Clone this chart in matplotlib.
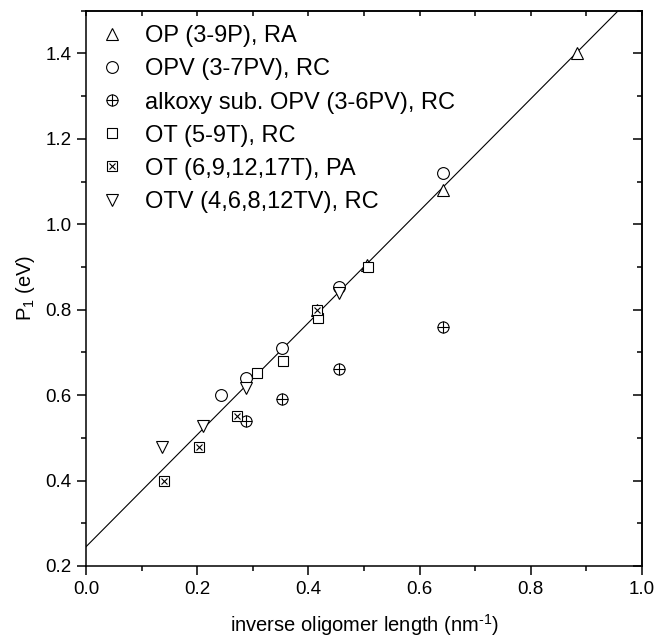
import matplotlib
matplotlib.use("Agg")
import matplotlib.pyplot as plt
import numpy as np
from matplotlib.legend_handler import HandlerTuple
from matplotlib.ticker import MultipleLocator, FormatStrFormatter

plt.rcParams['font.family'] = ['Liberation Sans', 'DejaVu Sans']
plt.rcParams['mathtext.fontset'] = 'custom'
plt.rcParams['mathtext.rm'] = 'Liberation Sans'

# data
op_x = [0.416, 0.505, 0.643, 0.883]
op_y = [0.80, 0.905, 1.08, 1.40]
opv_x = [0.242, 0.288, 0.3525, 0.4545, 0.643]
opv_y = [0.60, 0.64, 0.71, 0.853, 1.12]
alk_x = [0.288, 0.3525, 0.455, 0.6415]
alk_y = [0.54, 0.59, 0.66, 0.76]
ot_x = [0.307, 0.355, 0.418, 0.508]
ot_y = [0.651, 0.68, 0.78, 0.90]
otpa_x = [0.140, 0.2027, 0.272, 0.416]
otpa_y = [0.398, 0.479, 0.55, 0.80]
otv_x = [0.137, 0.21, 0.288, 0.4545]
otv_y = [0.478, 0.528, 0.617, 0.840]
fit_intercept = 0.245
fit_slope = 1.311

labels = ["OP (3-9P), RA", "OPV (3-7PV), RC", "alkoxy sub. OPV (3-6PV), RC",
          "OT (5-9T), RC", "OT (6,9,12,17T), PA", "OTV (4,6,8,12TV), RC"]
xticks = [0.0, 0.2, 0.4, 0.6, 0.8, 1.0]
yticks = [0.2, 0.4, 0.6, 0.8, 1.0, 1.2, 1.4]

fig = plt.figure(figsize=(6.65, 6.37), dpi=100)
ax = fig.add_axes([0.1293, 0.1115, 0.8361, 0.8717])

fx = np.array([0.0, 1.0])
ax.plot(fx, fit_intercept + fit_slope * fx, color='black', lw=0.8, zorder=1)

mew = 0.8
kw = dict(linestyle='none', mfc='white', mec='black', mew=mew, zorder=3)
h_op, = ax.plot(op_x, op_y, marker='^', ms=9, **kw)
h_opv, = ax.plot(opv_x, opv_y, marker='o', ms=8.5, **kw)
h_alk1, = ax.plot(alk_x, alk_y, marker='o', ms=8, **kw)
h_alk2, = ax.plot(alk_x, alk_y, marker='+', ms=8, linestyle='none', mec='black', mew=mew, zorder=4)
h_ot, = ax.plot(ot_x, ot_y, marker='s', ms=7.5, **kw)
h_pa1, = ax.plot(otpa_x, otpa_y, marker='s', ms=7, **kw)
h_pa2, = ax.plot(otpa_x, otpa_y, marker='x', ms=5, linestyle='none', mec='black', mew=mew, zorder=4)
h_otv, = ax.plot(otv_x, otv_y, marker='v', ms=9, **kw)

handles = [h_op, h_opv, (h_alk1, h_alk2), h_ot, (h_pa1, h_pa2), h_otv]
leg = ax.legend(handles, labels, loc='upper left', frameon=False, fontsize=17,
                handler_map={tuple: HandlerTuple(ndivide=1)},
                handlelength=1.0, handletextpad=0.9, labelspacing=0.47,
                borderaxespad=0.2, borderpad=0.42)

ax.set_xlim(0, 1.0)
ax.set_ylim(0.2, 1.5)
ax.set_xticks(xticks)
ax.set_yticks(yticks)
ax.xaxis.set_minor_locator(MultipleLocator(0.1))
ax.yaxis.set_minor_locator(MultipleLocator(0.1))
ax.xaxis.set_major_formatter(FormatStrFormatter('%.1f'))
ax.yaxis.set_major_formatter(FormatStrFormatter('%.1f'))

ax.tick_params(axis='both', which='major', direction='out', length=6.5, width=1.1,
               labelsize=13.5, pad=4)
ax.tick_params(axis='both', which='minor', direction='out', length=3.3, width=1.1)

# inward ticks on top and right
sx = ax.secondary_xaxis('top')
sx.xaxis.set_major_locator(MultipleLocator(0.1))
sx.tick_params(direction='in', length=3.6, width=1.1, labeltop=False)
sy = ax.secondary_yaxis('right')
sy.set_yticks(yticks)
sy.yaxis.set_minor_locator(MultipleLocator(0.1))
sy.tick_params(which='major', direction='in', length=6.5, width=1.1, labelright=False)
sy.tick_params(which='minor', direction='in', length=3.3, width=1.1)
for s in ax.spines.values():
    s.set_linewidth(1.1)
sx.spines['top'].set_linewidth(1.1)
sy.spines['right'].set_linewidth(1.1)

ax.set_xlabel('inverse oligomer length (nm$^{\\text{-}1}$)', fontsize=14.5)
ax.xaxis.set_label_coords(0.5, -0.083)
ax.set_ylabel('P$_1$ (eV)', fontsize=14.5)
ax.yaxis.set_label_coords(-0.088, 0.5)

fig.savefig('out.png', dpi=100)
